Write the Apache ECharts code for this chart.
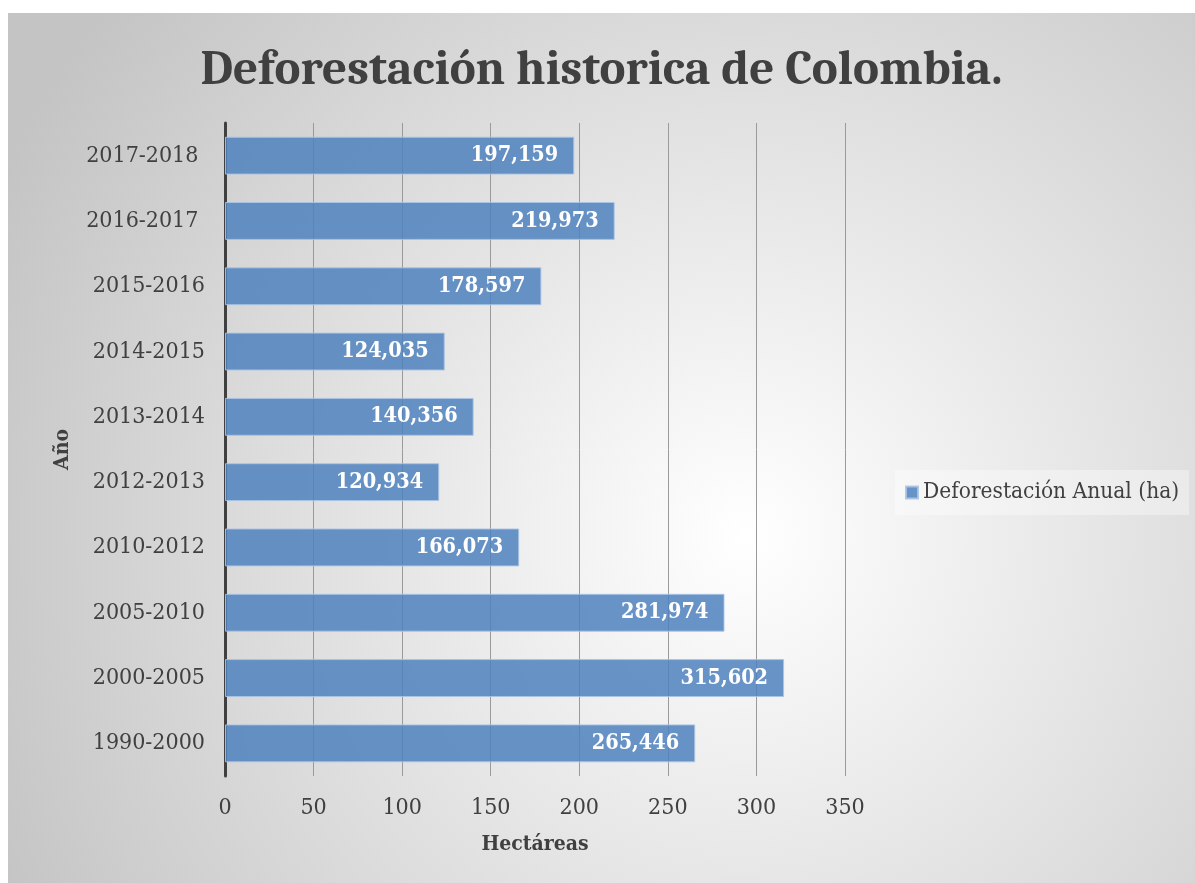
<!DOCTYPE html>
<html>
<head>
<meta charset="utf-8">
<script src="https://cdn.jsdelivr.net/npm/echarts@6/dist/echarts.min.js"></script>
<style>
html,body{margin:0;padding:0;background:#ffffff;}
#chart{position:absolute;left:8px;top:13px;width:1187px;height:870px;}
</style>
</head>
<body>
<div id="chart"></div>
<script>
const categories = ['1990-2000','2000-2005','2005-2010','2010-2012','2012-2013','2013-2014','2014-2015','2015-2016','2016-2017 ','2017-2018 '];
const deforestationHa = [265446, 315602, 281974, 166073, 120934, 140356, 124035, 178597, 219973, 197159];
const xTicks = [0, 50, 100, 150, 200, 250, 300, 350];
const seriesName = 'Deforestación Anual (ha)';

const titleFont = "Cambria, 'Liberation Serif', serif";
const font = "'DejaVu Serif Condensed', 'DejaVu Serif', serif";
const chart = echarts.init(document.getElementById('chart'));
chart.setOption({
  backgroundColor: {
    type: 'radial', x: 0.62, y: 0.6, r: 0.95,
    colorStops: [{offset: 0, color: '#ffffff'}, {offset: 1, color: '#c4c4c4'}]
  },
  title: {
    text: 'Deforestación historica de Colombia.',
    left: 'center', top: 28,
    textStyle: {fontFamily: titleFont, fontWeight: 'bold', fontSize: 49, color: '#404040'}
  },
  legend: {
    data: [seriesName],
    left: 887, top: 457,
    orient: 'vertical',
    backgroundColor: 'rgba(255,255,255,0.35)',
    padding: [11, 10, 11, 10],
    itemWidth: 12, itemHeight: 12, itemGap: 6,
    icon: 'rect',
    textStyle: {fontFamily: font, fontSize: 22.5, color: '#404040'}
  },
  grid: {left: 217, right: 350, top: 110, bottom: 107, containLabel: false},
  xAxis: {
    type: 'value', min: 0, max: 350, interval: 50,
    name: 'Hectáreas', nameLocation: 'middle', nameGap: 58,
    nameTextStyle: {fontFamily: font, fontWeight: 'bold', fontSize: 21, color: '#404040'},
    axisLine: {show: false}, axisTick: {show: false},
    axisLabel: {margin: 21, fontFamily: font, fontSize: 23, color: '#404040',
      formatter: v => xTicks.includes(v) ? String(v) : ''},
    splitLine: {show: true, lineStyle: {color: '#9a9a9a', width: 1}}
  },
  yAxis: {
    type: 'category', data: categories,
    name: 'Año', nameLocation: 'middle', nameGap: 152, nameRotate: 90,
    nameTextStyle: {fontFamily: font, fontWeight: 'bold', fontSize: 21, color: '#404040'},
    axisLine: {show: true, lineStyle: {color: '#404040', width: 3}},
    axisTick: {show: false},
    axisLabel: {margin: 20, fontFamily: font, fontSize: 23, color: '#404040'}
  },
  series: [{
    name: seriesName, type: 'bar',
    data: deforestationHa.map(v => v / 1000),
    barCategoryGap: '42%',
    itemStyle: {color: 'rgba(79,129,189,0.85)', borderColor: 'rgba(170,196,228,0.9)', borderWidth: 1},
    label: {
      show: true, position: 'insideRight', distance: 16,
      fontFamily: font, fontWeight: 'bold', fontSize: 21.5, color: '#ffffff',
      formatter: p => deforestationHa[p.dataIndex].toLocaleString('en-US')
    }
  }]
});
</script>
</body>
</html>
